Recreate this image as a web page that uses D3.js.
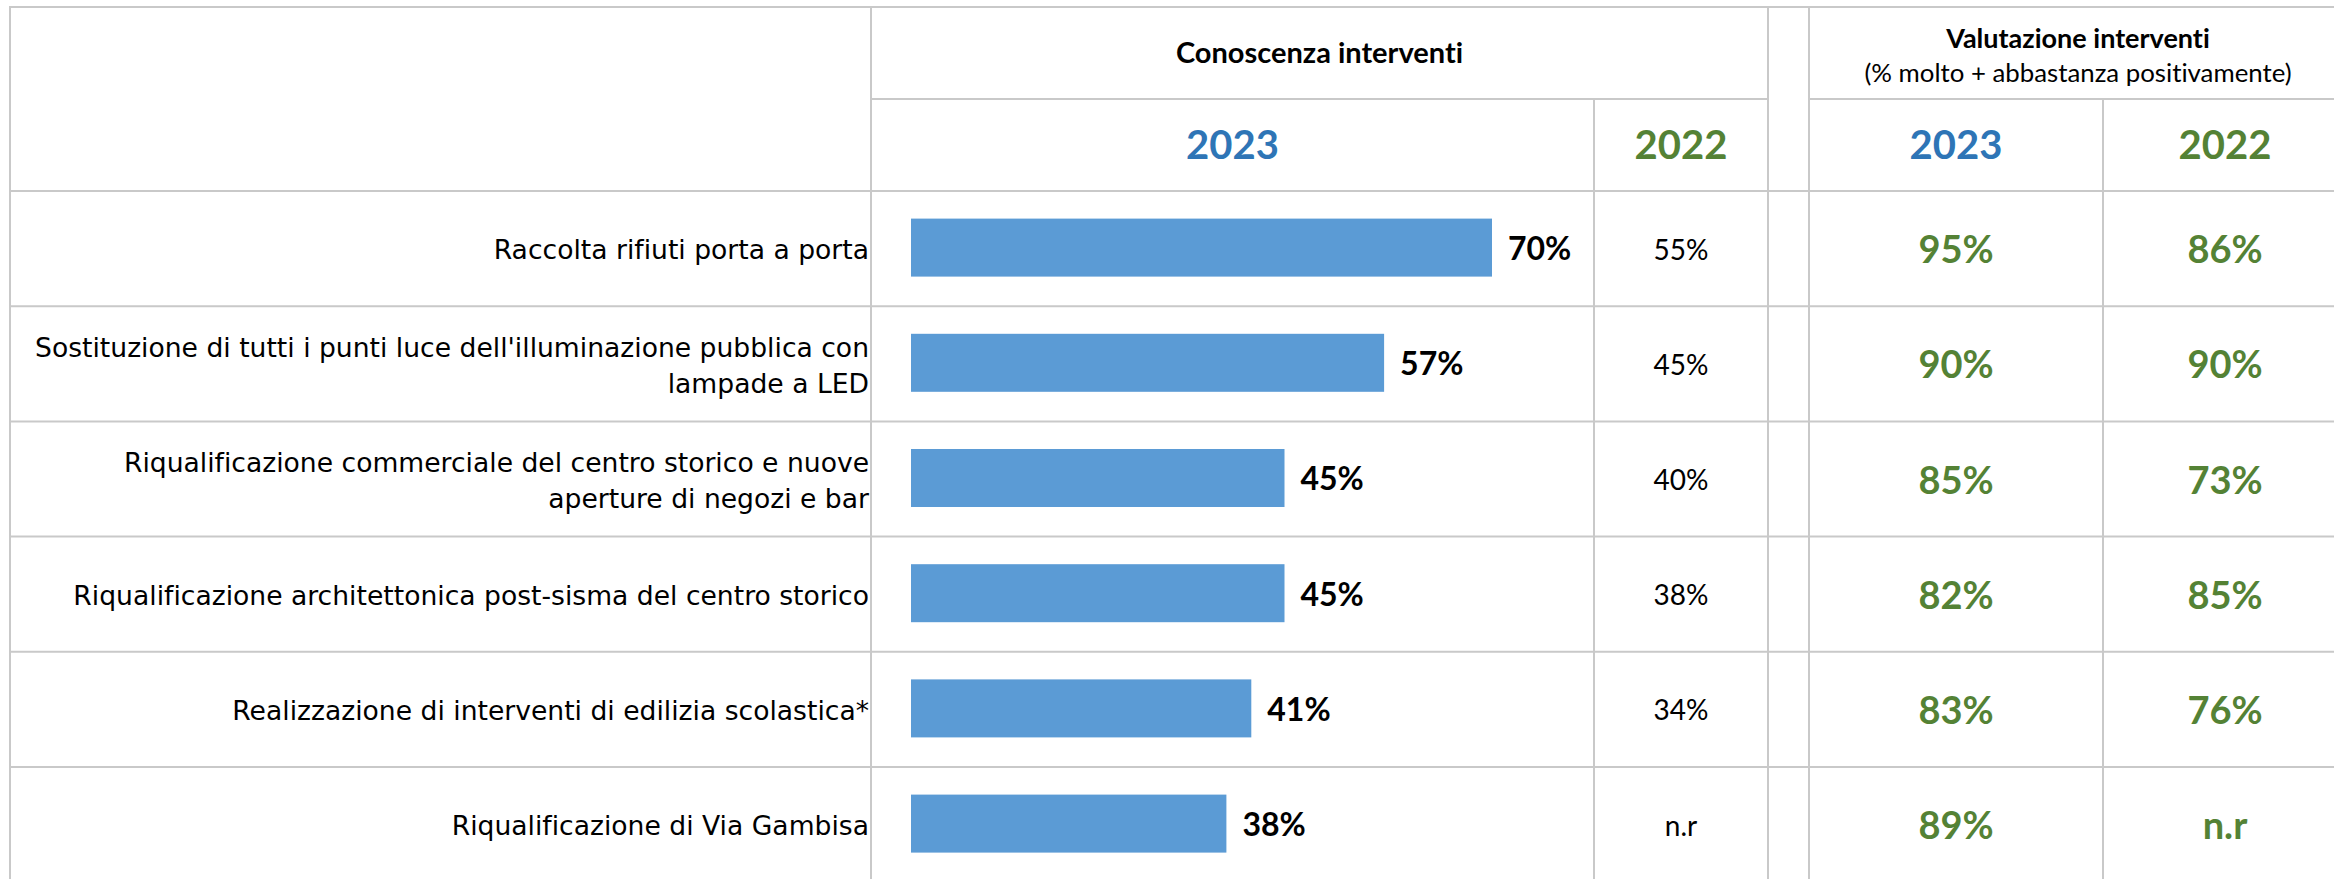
<!DOCTYPE html>
<html>
<head>
<meta charset="utf-8">
<script src="https://cdn.jsdelivr.net/npm/d3@7"></script>
<style>
  html, body { margin: 0; padding: 0; background: #ffffff; }
  svg { display: block; }
  text { font-variant-ligatures: none; font-feature-settings: "liga" 0, "clig" 0; }
</style>
</head>
<body>
<svg id="chart" width="2334" height="879"></svg>
<script>
// ---------- DATA ----------
const categories = [
  "Raccolta rifiuti porta a porta",
  "Sostituzione di tutti i punti luce dell'illuminazione pubblica con|lampade a LED",
  "Riqualificazione commerciale del centro storico e nuove|aperture di negozi e bar",
  "Riqualificazione architettonica post-sisma del centro storico",
  "Realizzazione di interventi di edilizia scolastica*",
  "Riqualificazione di Via Gambisa"
];
const conoscenza2023 = [70, 57, 45, 45, 41, 38];
const conoscenza2022 = [55, 45, 40, 38, 34, null];
const valutazione2023 = [95, 90, 85, 82, 83, 89];
const valutazione2022 = [86, 90, 73, 85, 76, null];
const groupTitles = ["Conoscenza interventi", "Valutazione interventi"];
const groupSubtitle = "(% molto + abbastanza positivamente)";
const years = ["2023", "2022"];
const missingLabel = "n.r";

// ---------- LAYOUT ----------
const svg = d3.select("#chart");
const W = 2334, H = 879;
const colors = { blue: "#2E75B6", green: "#548235", bar: "#5B9BD5", grid: "#C9C9C9", text: "#000000" };
const labelFont = "'DejaVu Sans', Verdana, sans-serif";
const numFont = "Lato, 'Open Sans', sans-serif";

const xLeft = 10, xLabelEnd = 871, x2022 = 1594, xGapL = 1768, xGapR = 1809, xVal = 2103, xRight = 2347;
const yTop = 7, yMid = 99, yHead = 191, rowH = 115.2;

const y = d3.scaleBand().domain(d3.range(categories.length))
  .range([yHead, yHead + rowH * categories.length]).padding(0);
const x = d3.scaleLinear().domain([0, 100]).range([911, 1741]);
const fmt = v => v == null ? missingLabel : d3.format("d")(v) + "%";

// ---------- GRID ----------
const grid = svg.append("g").attr("stroke", colors.grid).attr("stroke-width", 2).attr("fill", "none");
const hLines = [
  [xLeft, W, yTop],
  [xLabelEnd, xGapL, yMid],
  [xGapR, W, yMid],
  [xLeft, W, yHead]
];
d3.range(1, categories.length + 1).forEach(i => hLines.push([xLeft, W, y.range()[0] + i * y.step()]));
grid.selectAll("line.h").data(hLines).join("line").attr("class", "h")
  .attr("x1", d => d[0]).attr("x2", d => d[1]).attr("y1", d => d[2]).attr("y2", d => d[2]);
const vLines = [
  [xLeft, yTop], [xLabelEnd, yTop], [x2022, yMid], [xGapL, yTop], [xGapR, yTop], [xVal, yMid]
];
grid.selectAll("line.v").data(vLines).join("line").attr("class", "v")
  .attr("x1", d => d[0]).attr("x2", d => d[0]).attr("y1", d => d[1] - 1).attr("y2", H);

// helper: text vertically centered on cap height
function ctext(g, str, cx, cy, opts) {
  const size = opts.size;
  return g.append("text")
    .attr("x", cx).attr("y", cy + size * (opts.capHalf || 0.358))
    .attr("text-anchor", opts.anchor || "middle")
    .attr("font-family", opts.font || numFont)
    .attr("font-weight", opts.weight || "normal")
    .attr("font-size", size)
    .attr("fill", opts.fill || colors.text)
    .text(str);
}

// ---------- HEADERS ----------
const head = svg.append("g");
ctext(head, groupTitles[0], (xLabelEnd + xGapL) / 2, (yTop + yMid) / 2, { size: 29, weight: "bold" });
ctext(head, groupTitles[1], (xGapR + xRight) / 2, 38, { size: 27, weight: "bold" });
ctext(head, groupSubtitle, (xGapR + xRight) / 2, 73, { size: 25.8 });
const yearCenters = [
  [(xLabelEnd + x2022) / 2, colors.blue, years[0]],
  [(x2022 + xGapL) / 2, colors.green, years[1]],
  [(xGapR + xVal) / 2, colors.blue, years[0]],
  [(xVal + xRight) / 2, colors.green, years[1]]
];
yearCenters.forEach(d => ctext(head, d[2], d[0], (yMid + yHead) / 2, { size: 40, weight: "bold", fill: d[1] }));

// ---------- ROWS ----------
const rows = svg.append("g");
const cy = i => y(i) + y.bandwidth() / 2;

// category labels
categories.forEach((c, i) => {
  const lines = c.split("|");
  const lh = 36;
  lines.forEach((ln, j) => {
    const off = (j - (lines.length - 1) / 2) * lh;
    ctext(rows, ln, 869, cy(i) + 1 + off, { size: 26.6, font: labelFont, anchor: "end", capHalf: 0.365 });
  });
});

// bars
const barH = 58;
rows.selectAll("rect.bar").data(conoscenza2023).join("rect").attr("class", "bar")
  .attr("x", x(0)).attr("y", (d, i) => cy(i) - barH / 2 - 1)
  .attr("width", d => x(d) - x(0)).attr("height", barH)
  .attr("fill", colors.bar);
rows.selectAll("text.barlab").data(conoscenza2023).join("text").attr("class", "barlab")
  .attr("x", d => x(d) + 16).attr("y", (d, i) => cy(i) + 32 * 0.358)
  .attr("font-family", numFont).attr("font-weight", "bold").attr("font-size", 32)
  .attr("fill", colors.text).text(fmt);

// 2022 conoscenza
conoscenza2022.forEach((v, i) => ctext(rows, fmt(v), (x2022 + xGapL) / 2, cy(i) + 1, { size: 28 }));
// valutazione
valutazione2023.forEach((v, i) => ctext(rows, fmt(v), (xGapR + xVal) / 2, cy(i) + 1, { size: 38, weight: "bold", fill: colors.green }));
valutazione2022.forEach((v, i) => ctext(rows, fmt(v), (xVal + xRight) / 2, cy(i) + 1, { size: 38, weight: "bold", fill: colors.green }));
</script>
</body>
</html>
